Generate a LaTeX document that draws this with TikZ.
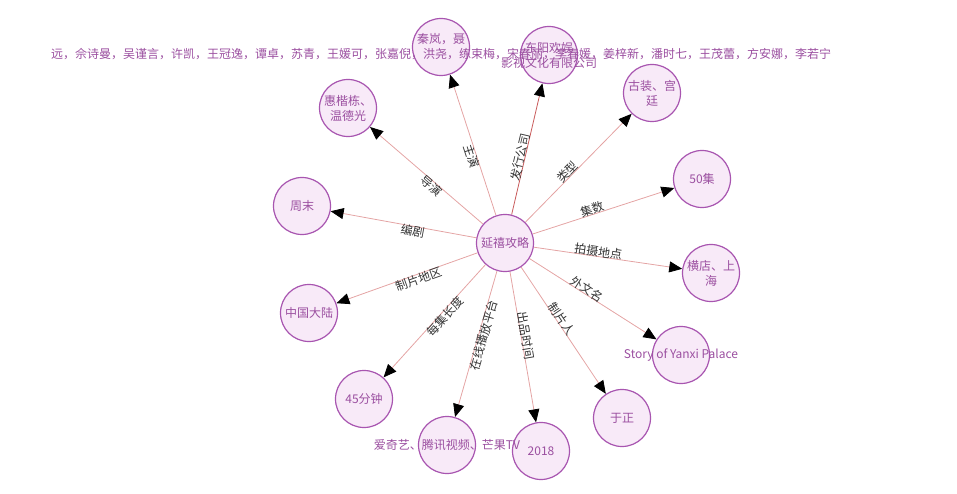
\documentclass[tikz,border=0pt]{standalone}
\usepackage{fontspec}
\setmainfont{Noto Sans CJK SC}
\usetikzlibrary{arrows.meta,backgrounds}
\definecolor{nfill}{HTML}{F8EAF8}
\definecolor{ndraw}{HTML}{A855B0}
\definecolor{ntext}{HTML}{9B4FA0}
\definecolor{edgec}{HTML}{E4A4A4}
\definecolor{edgedark}{HTML}{C85A5A}
\definecolor{ltext}{HTML}{333333}
\begin{document}
\begin{tikzpicture}[x=1pt,y=-1pt,
  ent/.style={circle, draw=ndraw, fill=nfill, line width=1.2pt, minimum size=57pt, inner sep=0pt},
  txt/.style={text=ntext, font=\fontsize{12}{15}\selectfont, align=center, inner sep=0pt},
  rel/.style={draw=edgec, line width=0.8pt, -{Triangle[length=13pt,width=11pt,color=black]}},
  lab/.style={sloped, pos=0.43, text=ltext, font=\fontsize{12}{14}\selectfont, inner sep=0pt},
  labr/.style={lab, above=-1pt},
  labl/.style={lab, below=-1pt}]
\useasboundingbox (0,0) rectangle (957,494);
% circles
\node[ent] (c) at (505,243) {};
\node[ent] (a1) at (441,47) {};
\node[ent] (a2) at (549,55) {};
\node[ent] (a3) at (652,93) {};
\node[ent] (a4) at (348,108) {};
\node[ent] (a5) at (702,179) {};
\node[ent] (a6) at (302,206) {};
\node[ent] (a7) at (711,273) {};
\node[ent] (a8) at (309,313) {};
\node[ent] (a9) at (681,355) {};
\node[ent] (a10) at (364,399) {};
\node[ent] (a11) at (447,445) {};
\node[ent] (a12) at (541,451) {};
\node[ent] (a13) at (622,418) {};
% edges
\begin{pgfonlayer}{background}
\draw[rel] (c) -- node[labl] {主演} (a1);
\draw[rel, draw=edgedark] (c) -- node[labr] {发行公司} (a2);
\draw[rel] (c) -- node[labr] {类型} (a3);
\draw[rel] (c) -- node[labl] {导演} (a4);
\draw[rel] (c) -- node[labr] {集数} (a5);
\draw[rel] (c) -- node[labl] {编剧} (a6);
\draw[rel] (c) -- node[labr] {拍摄地点} (a7);
\draw[rel] (c) -- node[labl] {制片地区} (a8);
\draw[rel] (c) -- node[labr] {外文名} (a9);
\draw[rel] (c) -- node[labl] {每集长度} (a10);
\draw[rel] (c) -- node[labl] {在线播放平台} (a11);
\draw[rel] (c) -- node[labr] {出品时间} (a12);
\draw[rel] (c) -- node[labr] {制片人} (a13);
\end{pgfonlayer}
% texts
\node[txt] at (c) {延禧攻略};
\node[txt] at (a1) {秦岚，聂\\远，佘诗曼，吴谨言，许凯，王冠逸，谭卓，苏青，王媛可，张嘉倪，洪尧，练束梅，宋春丽，李春媛，姜梓新，潘时七，王茂蕾，方安娜，李若宁};
\node[txt] at (a2) {东阳欢娱\\影视文化有限公司};
\node[txt] at (a3) {古装、宫\\廷};
\node[txt] at (a4) {惠楷栋、\\温德光};
\node[txt] at (a5) {50集};
\node[txt] at (a6) {周末};
\node[txt] at (a7) {横店、上\\海};
\node[txt] at (a8) {中国大陆};
\node[txt] at (a9) {Story of Yanxi Palace};
\node[txt] at (a10) {45分钟};
\node[txt] at (a11) {爱奇艺、腾讯视频、芒果TV};
\node[txt] at (a12) {2018};
\node[txt] at (a13) {于正};
\end{tikzpicture}
\end{document}
